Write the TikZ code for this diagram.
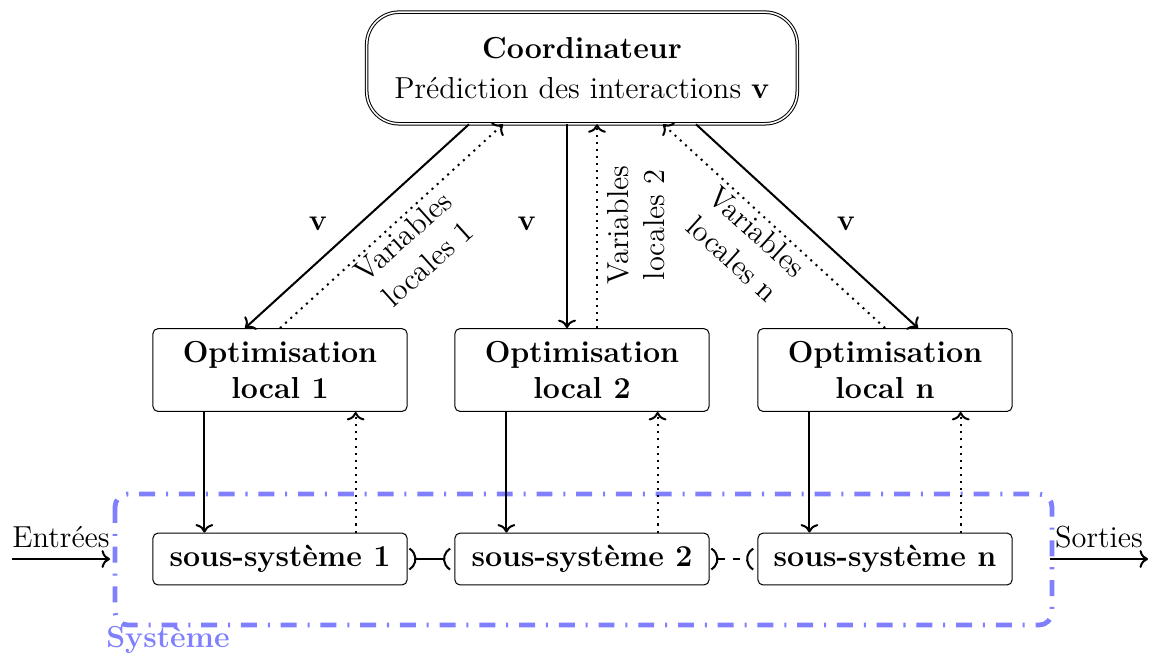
\documentclass[12pt,tikz,border=0pt]{standalone}
\usetikzlibrary{positioning, arrows.meta}

\tikzset{
  optbox/.style={draw, rounded corners=2pt, minimum width=3.53cm, minimum height=1.15cm, align=center, font=\bfseries},
  subbox/.style={draw, rounded corners=2pt, minimum width=3.53cm, minimum height=0.72cm, font=\bfseries},
  cmd/.style={->, thick},
  mesure/.style={->, thick, dotted},
  lien/.style={thick, {Parenthesis[reversed, scale=1.45]}-{Parenthesis[reversed, scale=1.45]}, shorten <=0.5pt, shorten >=1.5pt},
}

\begin{document}
\begin{tikzpicture}
		\useasboundingbox (0,0) rectangle (16.069,-9.097);

		% coordinateur
		\node[draw, double, rounded corners=0.45cm, minimum width=5.98cm, minimum height=1.55cm, align=center]
			(coord) at (8.083,-0.944) {\textbf{Coordinateur}\\[1pt]Prédiction des interactions $\mathbf{v}$};

		% optimisations locales
		\node[optbox] (opt1) at (3.889,-5.139) {Optimisation\\local 1};
		\node[optbox] (opt2) at (8.083,-5.139) {Optimisation\\local 2};
		\node[optbox] (opt3) at (12.292,-5.139) {Optimisation\\local n};

		% sous-systemes
		\node[subbox] (sub1) at (3.889,-7.764) {sous-système 1};
		\node[subbox] (sub2) at (8.083,-7.764) {sous-système 2};
		\node[subbox] (sub3) at (12.292,-7.764) {sous-système n};

		% systeme
		\draw[blue!50, line width=1.9pt, dash pattern=on 6.3pt off 4.3pt on 0.8pt off 4.3pt, rounded corners=0.18cm]
			(1.597,-6.861) rectangle (14.611,-8.681);
		\node[blue!50, font=\bfseries] (sys) at (2.333,-8.889) {Système};

		% coordinateur - optimisations
		\draw[cmd] ([xshift=-1.569cm]coord.south) -- ([xshift=-0.486cm]opt1.north);
		\draw[mesure] (opt1.north) -- ([xshift=-1.097cm]coord.south);
		\draw[cmd] ([xshift=-0.208cm]coord.south) -- ([xshift=-0.208cm]opt2.north);
		\draw[mesure] ([xshift=0.208cm]opt2.north) -- ([xshift=0.208cm]coord.south);
		\draw[cmd] ([xshift=1.583cm]coord.south) -- ([xshift=0.458cm]opt3.north);
		\draw[mesure] (opt3.north) -- ([xshift=1.125cm]coord.south);

		\node (v1) at (4.417,-3.111) {$\mathbf{v}$};
		\node (v2) at (7.319,-3.111) {$\mathbf{v}$};
		\node (v3) at (11.75,-3.111) {$\mathbf{v}$};

		\node[rotate=42, align=center] (vl1) at (5.764,-3.472) {Variables\\locales 1};
		\node[rotate=90, align=center] (vl2) at (8.833,-3.125) {Variables\\locales 2};
		\node[rotate=-42, align=center] (vl3) at (10.347,-3.403) {Variables\\locales n};

		% optimisations - sous-systemes
		\foreach \i in {1,2,3} {
			\draw[cmd] ([xshift=-1.05cm]opt\i.south) -- ([xshift=-1.05cm]sub\i.north);
			\draw[mesure] ([xshift=1.05cm]sub\i.north) -- ([xshift=1.05cm]opt\i.south);
		}

		% interactions
		\draw[lien] (sub1.east) -- (sub2.west);
		\draw[lien, dashed] (sub2.east) -- (sub3.west);

		% entrees / sorties
		\coordinate (in) at (0.167,-7.764);
		\coordinate (out) at (15.944,-7.764);
		\draw[cmd] (in) -- node[above] {Entrées} (sub1.west -| 1.528,0);
		\draw[cmd] (sub3.east -| 14.583,0) -- node[above] {Sorties} (out);
	\end{tikzpicture}
\end{document}
